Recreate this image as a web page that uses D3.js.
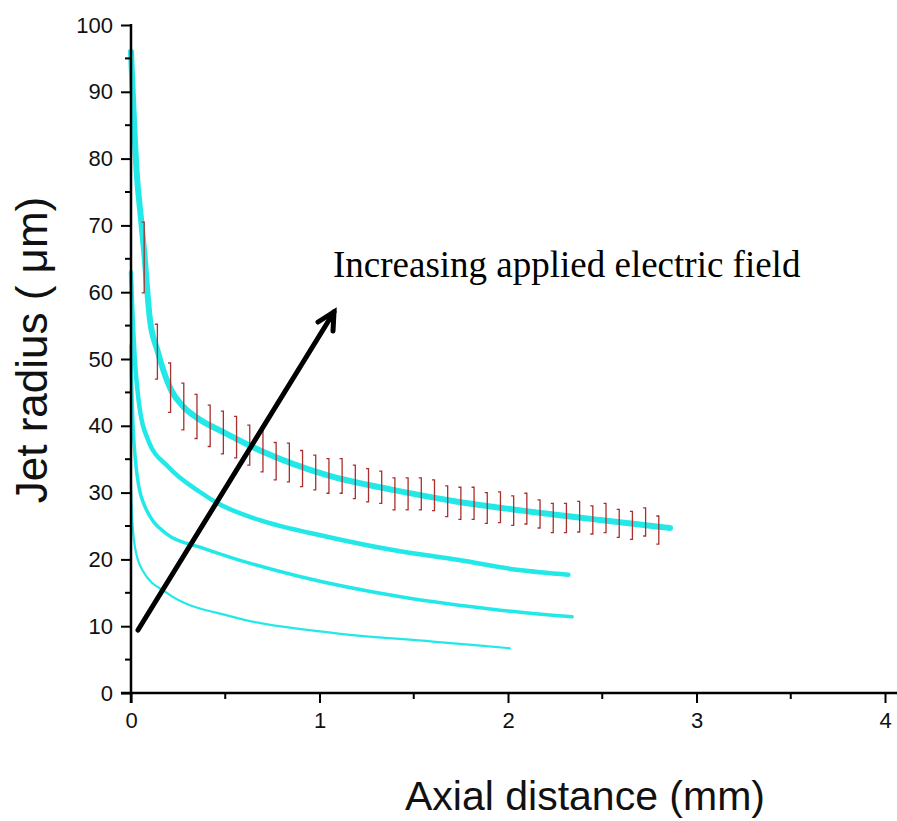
<!DOCTYPE html>
<html lang="en">
<head>
<meta charset="utf-8">
<title>Jet radius vs axial distance</title>
<script src="https://d3js.org/d3.v7.min.js"></script>
<style>
  body { margin: 0; background: #ffffff; }
  svg { display: block; }
</style>
</head>
<body>
<script>
// values (mm, um)
var xA = [0, 0.03, 0.053, 0.07, 0.1, 0.14, 0.21, 0.28, 0.35, 0.5, 0.7, 1.04, 1.39, 1.74, 2.05, 2.49, 2.8, 2.86];
var rA = [96, 78, 71, 66, 56, 51.3, 45.5, 42.8, 41.2, 38.9, 36.1, 32.6, 30.4, 28.6, 27.4, 25.9, 24.9, 24.7];

var xB = [0, 0.005, 0.02, 0.04, 0.09, 0.2, 0.36, 0.46, 0.68, 1.04, 1.39, 1.74, 2.06, 2.32];
var rB = [63, 58.8, 50, 43.9, 37.9, 33.8, 30.2, 28.4, 25.9, 23.4, 21.4, 19.9, 18.4, 17.7];

var xC = [0, 0.005, 0.02, 0.06, 0.19, 0.37, 0.54, 0.9, 1.43, 1.96, 2.34];
var rC = [52, 45, 36, 28.9, 23.8, 21.8, 20.2, 17.4, 14.4, 12.4, 11.4];

var xD = [0, 0.005, 0.02, 0.06, 0.19, 0.54, 1.07, 1.6, 2.01];
var rD = [31, 27, 22, 18.4, 15, 11.4, 9.0, 7.7, 6.7];

// error bars on the top curve
var errX = [0.07, 0.14, 0.21, 0.28, 0.35, 0.42, 0.49, 0.56, 0.63, 0.70,
            0.77, 0.84, 0.91, 0.98, 1.05, 1.12, 1.19, 1.26, 1.33, 1.40,
            1.47, 1.54, 1.61, 1.68, 1.75, 1.82, 1.89, 1.96, 2.03, 2.10,
            2.17, 2.24, 2.31, 2.38, 2.45, 2.52, 2.59, 2.66, 2.73, 2.80];
var errY = [65.2, 51.1, 45.7, 42.9, 41.4, 40.0, 39.0, 38.3, 37.1, 36.2,
            34.7, 34.5, 33.6, 33.0, 32.5, 32.5, 31.6, 31.1, 30.8, 29.8,
            29.8, 29.8, 29.6, 28.7, 28.4, 28.4, 27.7, 27.8, 27.3, 27.6,
            26.8, 26.2, 26.2, 26.4, 25.9, 26.2, 25.4, 25.1, 25.6, 24.4];
var errE = [5.3, 4.1, 3.7, 3.5, 3.3, 3.1, 3.2, 3.1, 3.0, 3.1,
            2.8, 2.9, 2.7, 2.6, 2.6, 2.6, 2.5, 2.5, 2.4, 2.4,
            2.4, 2.4, 2.3, 2.3, 2.4, 2.4, 2.3, 2.3, 2.2, 2.3,
            2.1, 2.2, 2.2, 2.3, 2.1, 2.2, 2.1, 2.1, 2.1, 2.1];

var xTicks = [0, 1, 2, 3, 4];
var yTicks = [0, 10, 20, 30, 40, 50, 60, 70, 80, 90, 100];

var width = 897, height = 821;
var cyan = "#22e8e8";
var sans = "'Liberation Sans', Arial, sans-serif";

var svg = d3.select("body").append("svg")
    .attr("width", width)
    .attr("height", height);

var x = d3.scaleLinear().domain([0, 4]).range([131, 885]);
var y = d3.scaleLinear().domain([0, 100]).range([693, 25]);

// curves
var line = d3.line()
    .x(function(d) { return x(d[0]); })
    .y(function(d) { return y(d[1]); })
    .curve(d3.curveMonotoneX);

var curves = [
    { xs: xD, rs: rD, w: 2.2 },
    { xs: xC, rs: rC, w: 3.5 },
    { xs: xB, rs: rB, w: 4.5 },
    { xs: xA, rs: rA, w: 6 }
];

svg.append("g").selectAll("path")
    .data(curves)
    .enter()
    .append("path")
    .attr("d", function(c) { return line(d3.zip(c.xs, c.rs)); })
    .attr("fill", "none")
    .attr("stroke", cyan)
    .attr("stroke-width", function(c) { return c.w; })
    .attr("stroke-linejoin", "round")
    .attr("stroke-linecap", "round");

// error bars
var bars = svg.append("g").attr("stroke", "#a8302e").attr("stroke-width", 1.3).attr("fill", "none");
errX.forEach(function(xv, i) {
    var px = x(xv), top = y(errY[i] + errE[i]), bot = y(errY[i] - errE[i]);
    bars.append("path")
        .attr("d", "M" + (px - 2.5) + "," + top + "H" + px + "V" + bot + "H" + (px - 2.5));
});

// axes
var xAxis = d3.axisBottom(x).tickValues(xTicks).tickSize(10).tickPadding(6).tickFormat(d3.format("d"));
var yAxis = d3.axisLeft(y).tickValues(yTicks).tickSize(10).tickPadding(8).tickFormat(d3.format("d"));

var gx = svg.append("g").attr("transform", "translate(0,693)").call(xAxis);
var gy = svg.append("g").attr("transform", "translate(131,0)").call(yAxis);

[gx, gy].forEach(function(g) {
    g.attr("font-size", 22).attr("font-family", sans);
    g.select(".domain").remove();
    g.selectAll(".tick line").attr("stroke", "#000").attr("stroke-width", 2);
    g.selectAll(".tick text")
        .attr("font-size", 22)
        .attr("font-family", sans)
        .attr("fill", "#111");
});
gx.selectAll(".tick text").attr("dy", "0.85em");

// minor ticks
svg.append("g").selectAll("line")
    .data([0.5, 1.5, 2.5, 3.5])
    .enter().append("line")
    .attr("x1", function(d) { return x(d); }).attr("x2", function(d) { return x(d); })
    .attr("y1", 693).attr("y2", 699)
    .attr("stroke", "#000").attr("stroke-width", 2);

svg.append("g").selectAll("line")
    .data([5, 15, 25, 35, 45, 55, 65, 75, 85, 95])
    .enter().append("line")
    .attr("x1", 125).attr("x2", 131)
    .attr("y1", function(d) { return y(d); }).attr("y2", function(d) { return y(d); })
    .attr("stroke", "#000").attr("stroke-width", 2);

// axis lines
svg.append("line").attr("x1", 121).attr("x2", 897).attr("y1", 693).attr("y2", 693)
    .attr("stroke", "#000").attr("stroke-width", 2.5);
svg.append("line").attr("x1", 131).attr("x2", 131).attr("y1", 24).attr("y2", 703)
    .attr("stroke", "#000").attr("stroke-width", 2.5);

// axis titles
svg.append("text")
    .attr("x", 585).attr("y", 810)
    .attr("text-anchor", "middle")
    .attr("font-family", sans)
    .attr("font-size", 41)
    .attr("fill", "#111")
    .text("Axial distance (mm)");

svg.append("text")
    .attr("transform", "translate(47,350) rotate(-90)")
    .attr("text-anchor", "middle")
    .attr("font-family", sans)
    .attr("font-size", 44)
    .attr("fill", "#111")
    .text("Jet radius ( \u03bcm)");

// annotation
svg.append("text")
    .attr("x", 333).attr("y", 277)
    .attr("font-family", "'Liberation Serif', 'Times New Roman', serif")
    .attr("font-size", 37)
    .attr("fill", "#000")
    .text("Increasing applied electric field");

var arrow = svg.append("g").attr("stroke", "#000").attr("stroke-width", 5)
    .attr("stroke-linecap", "round").attr("fill", "none");
arrow.append("line").attr("x1", 138).attr("y1", 630).attr("x2", 334).attr("y2", 312);
arrow.append("path").attr("d", "M318,322 L334,312 L333,331");
</script>
</body>
</html>
